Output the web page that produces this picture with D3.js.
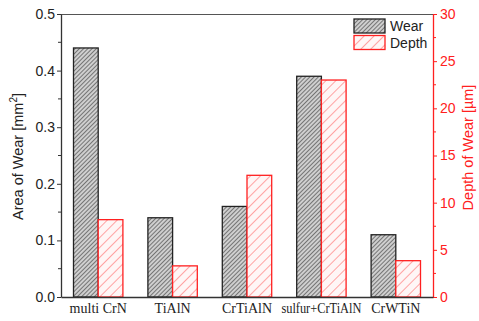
<!DOCTYPE html>
<html>
<head>
<meta charset="utf-8">
<script src="https://cdn.jsdelivr.net/npm/d3@7"></script>
<style>
  html, body { margin: 0; padding: 0; background: #fff; }
  svg { display: block; }
</style>
</head>
<body>
<svg id="chart" width="479" height="321"></svg>
<script>
// Coatings and measured wear values
const categories = ["multi CrN", "TiAlN", "CrTiAlN", "sulfur+CrTiAlN", "CrWTiN"];
const wearArea = [0.44, 0.14, 0.16, 0.39, 0.11];   // mm²
const wearDepth = [8.2, 3.3, 12.9, 23.0, 3.85];    // µm
const leftTicks = [0.0, 0.1, 0.2, 0.3, 0.4, 0.5];
const rightTicks = [0, 5, 10, 15, 20, 25, 30];

const svg = d3.select("#chart");
const m = { left: 61, right: 46, top: 14, bottom: 24 };
const W = 479, H = 321;
const x0 = m.left, x1 = W - m.right, y0 = H - m.bottom, y1 = m.top;
const red = "#ff2020";
const sans = "Liberation Sans, Arial, sans-serif";

const x = d3.scaleBand().domain(categories).range([x0, x1]).paddingInner(0.336).paddingOuter(0.168);
const yL = d3.scaleLinear().domain([0, 0.5]).range([y0, y1]);
const yR = d3.scaleLinear().domain([0, 30]).range([y0, y1]);
const bw = x.bandwidth() / 2;

// Hatch patterns
const defs = svg.append("defs");
const pw = defs.append("pattern").attr("id", "hWear").attr("patternUnits", "userSpaceOnUse")
  .attr("width", 3).attr("height", 3).attr("patternTransform", "rotate(45)");
pw.append("rect").attr("width", 3).attr("height", 3).attr("fill", "#cfcfcf");
pw.append("line").attr("x1", 0).attr("y1", 0).attr("x2", 0).attr("y2", 3)
  .attr("stroke", "#444").attr("stroke-width", 1.3);
const pd = defs.append("pattern").attr("id", "hDepth").attr("patternUnits", "userSpaceOnUse")
  .attr("width", 7).attr("height", 7).attr("patternTransform", "rotate(45)");
pd.append("rect").attr("width", 7).attr("height", 7).attr("fill", "#fff6f6");
pd.append("line").attr("x1", 0).attr("y1", 0).attr("x2", 0).attr("y2", 7)
  .attr("stroke", "#ff5050").attr("stroke-width", 1);

// Bars
svg.append("g").selectAll("rect").data(categories).join("rect")
  .attr("x", d => x(d)).attr("y", (d, i) => yL(wearArea[i]))
  .attr("width", bw).attr("height", (d, i) => y0 - yL(wearArea[i]))
  .attr("fill", "url(#hWear)").attr("stroke", "#222").attr("stroke-width", 1.3);
svg.append("g").selectAll("rect").data(categories).join("rect")
  .attr("x", d => x(d) + bw).attr("y", (d, i) => yR(wearDepth[i]))
  .attr("width", bw).attr("height", (d, i) => y0 - yR(wearDepth[i]))
  .attr("fill", "url(#hDepth)").attr("stroke", red).attr("stroke-width", 1.3);

// Frame top line
svg.append("line").attr("x1", x0).attr("x2", x1).attr("y1", y1 + 0.5).attr("y2", y1 + 0.5)
  .attr("stroke", "#555").attr("stroke-width", 1.2);

// Left axis
const gL = svg.append("g").attr("transform", `translate(${x0},0)`)
  .call(d3.axisLeft(yL).tickValues(leftTicks).tickFormat(d3.format(".1f")).tickSize(4).tickSizeOuter(0));
gL.select(".domain").attr("stroke", "#333").attr("stroke-width", 1.3);
gL.selectAll(".tick line").attr("stroke", "#333");
gL.selectAll(".tick text").attr("font-family", sans)
  .attr("font-size", 14).attr("fill", "#222").attr("x", -6);
svg.append("g").selectAll("line").data(d3.range(0.05, 0.5, 0.1)).join("line")
  .attr("x1", x0 - 3).attr("x2", x0).attr("y1", d => yL(d)).attr("y2", d => yL(d))
  .attr("stroke", "#333");

// Right axis
const gR = svg.append("g").attr("transform", `translate(${x1},0)`)
  .call(d3.axisRight(yR).tickValues(rightTicks).tickSize(4).tickSizeOuter(0));
gR.select(".domain").attr("stroke", red).attr("stroke-width", 1.3);
gR.selectAll(".tick line").attr("stroke", red);
gR.selectAll(".tick text").attr("font-family", sans)
  .attr("font-size", 14).attr("fill", red).attr("x", 7);
svg.append("g").selectAll("line").data(d3.range(2.5, 30, 5)).join("line")
  .attr("x1", x1).attr("x2", x1 + 3).attr("y1", d => yR(d)).attr("y2", d => yR(d))
  .attr("stroke", red);

// Bottom axis
const gB = svg.append("g").attr("transform", `translate(0,${y0})`)
  .call(d3.axisBottom(x).tickSize(0).tickSizeOuter(0));
gB.select(".domain").attr("stroke", "#333").attr("stroke-width", 1.3);
gB.selectAll(".tick text").attr("font-family", "Liberation Serif, Times New Roman, serif")
  .attr("font-size", 14).attr("fill", "#222").attr("dy", "0.95em")
  .filter(d => d === "sulfur+CrTiAlN")
  .attr("textLength", 80).attr("lengthAdjust", "spacingAndGlyphs");

// Axis titles
const tL = svg.append("text").attr("transform", `translate(23,${(y0 + y1) / 2 + 1}) rotate(-90)`)
  .attr("text-anchor", "middle").attr("font-family", sans)
  .attr("font-size", 14.5).attr("fill", "#222");
tL.append("tspan").text("Area of Wear [mm");
tL.append("tspan").attr("font-size", 10).attr("dy", -6).text("2");
tL.append("tspan").attr("dy", 6).text("]");
svg.append("text").attr("transform", `translate(473,${(y0 + y1) / 2 - 8}) rotate(-90)`)
  .attr("text-anchor", "middle").attr("font-family", sans)
  .attr("font-size", 14.5).attr("fill", red).text("Depth of Wear [µm]");

// Legend
const legend = [
  { label: "Wear", fill: "url(#hWear)", stroke: "#222" },
  { label: "Depth", fill: "url(#hDepth)", stroke: red }
];
const lg = svg.append("g").selectAll("g").data(legend).join("g")
  .attr("transform", (d, i) => `translate(354,${19 + i * 16.5})`);
lg.append("rect").attr("width", 31).attr("height", 14)
  .attr("fill", d => d.fill).attr("stroke", d => d.stroke).attr("stroke-width", 1.3);
lg.append("text").attr("x", 36).attr("y", 12).text(d => d.label)
  .attr("font-family", sans).attr("font-size", 14).attr("fill", "#222");
</script>
</body>
</html>
